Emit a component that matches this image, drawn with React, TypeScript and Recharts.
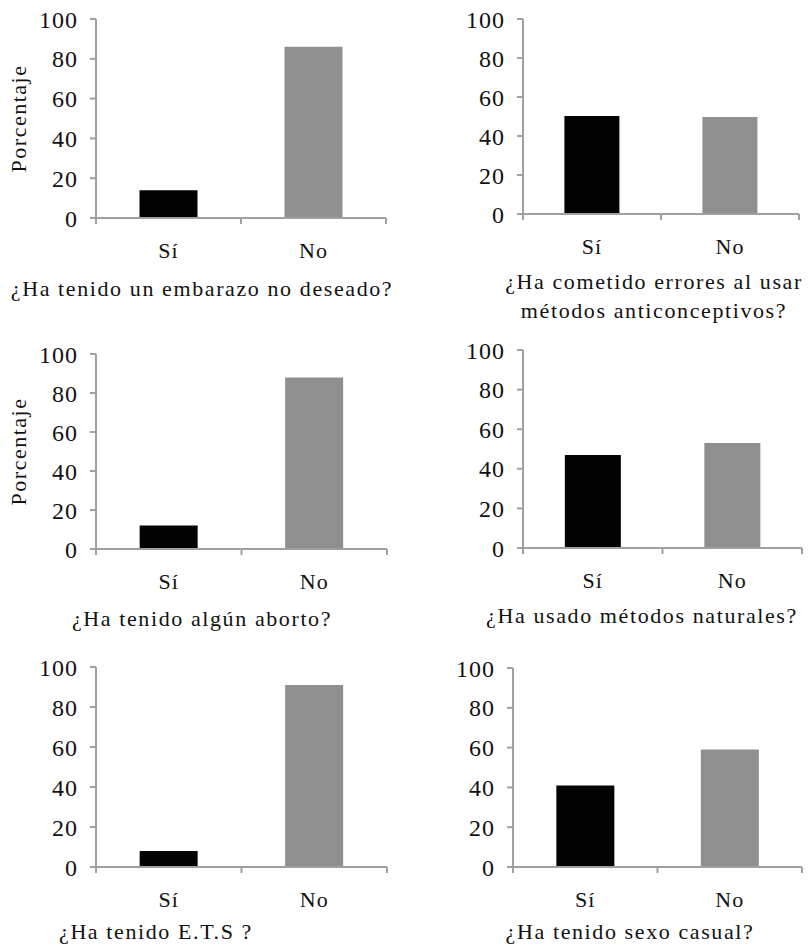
import React from 'react';
import { BarChart, Bar, XAxis, YAxis, Cell, Label } from 'recharts';

const categories = ['Sí', 'No'];
const embarazoNoDeseado = [14, 86];
const erroresAnticonceptivos = [50.3, 49.7];
const aborto = [12, 88];
const metodosNaturales = [47, 53];
const ets = [8, 91];
const sexoCasual = [41, 59];
const yTicks = [0, 20, 40, 60, 80, 100];
const titles = [
  ['¿Ha tenido un embarazo no deseado?'],
  ['¿Ha cometido errores al usar', 'métodos anticonceptivos?'],
  ['¿Ha tenido algún aborto?'],
  ['¿Ha usado métodos naturales?'],
  ['¿Ha tenido E.T.S ?'],
  ['¿Ha tenido sexo casual?'],
];
const seriesList = [embarazoNoDeseado, erroresAnticonceptivos, aborto, metodosNaturales, ets, sexoCasual];
const barColors = ['#030303', '#8f8f8f'];

const layouts = [
  { ax: 96, top: 19, bottom: 218, right: 386, tx: 202, ty: 290, ylab: true },
  { ax: 523, top: 19, bottom: 214, right: 799, tx: 654, ty: 283, ylab: false },
  { ax: 96, top: 354, bottom: 549, right: 387, tx: 202, ty: 620, ylab: true },
  { ax: 523, top: 350, bottom: 548, right: 802, tx: 642, ty: 617, ylab: false },
  { ax: 96, top: 667, bottom: 867, right: 387, tx: 156, ty: 933, ylab: false },
  { ax: 513, top: 668, bottom: 867, right: 802, tx: 630, ty: 933, ylab: false },
];

const FONT = '"Liberation Serif", "Noto Sans", serif';
const AXIS = '#a0a0a0';
const TEXT = '#111';

// Category tick: label at the band centre, Excel-style tick marks at the band edges
function CatTick(props: any) {
  const { x, y, payload, index, width, visibleTicksCount } = props;
  const count = visibleTicksCount || categories.length;
  const half =
    payload && typeof payload.offset === 'number' && payload.offset > 0
      ? payload.offset
      : width / (2 * count);
  const isLast = index === count - 1;
  return (
    <g>
      <line x1={x - half} y1={y} x2={x - half} y2={y + 6} stroke={AXIS} strokeWidth={2} />
      {isLast ? <line x1={x + half} y1={y} x2={x + half} y2={y + 6} stroke={AXIS} strokeWidth={2} /> : null}
      <text x={x} y={y + 40} textAnchor="middle" fill={TEXT} fontSize={22} fontFamily={FONT} letterSpacing={1}>
        {payload.value}
      </text>
    </g>
  );
}

function Panel({ idx }: { idx: number }) {
  const L = layouts[idx];
  const values = seriesList[idx];
  const data = categories.map((c, i) => ({ cat: c, value: values[i] }));
  const yW = 96;
  const mTop = 12;
  const mRight = 10;
  const left = L.ax - yW;
  const top = L.top - mTop;
  const width = L.right - L.ax + yW + mRight;
  const height = L.bottom - L.top + mTop + 50;
  return (
    <div style={{ position: 'absolute', left, top, width, height }}>
      <BarChart
        width={width}
        height={height}
        data={data}
        margin={{ top: mTop, right: mRight, bottom: 0, left: 0 }}
        barCategoryGap="30%"
      >
        <XAxis
          dataKey="cat"
          type="category"
          height={50}
          interval={0}
          axisLine={{ stroke: AXIS, strokeWidth: 2 }}
          tickLine={false}
          tickSize={0}
          tickMargin={0}
          tick={<CatTick />}
        />
        <YAxis
          width={yW}
          domain={[0, 100]}
          ticks={yTicks}
          interval={0}
          axisLine={{ stroke: AXIS, strokeWidth: 2 }}
          tickLine={{ stroke: AXIS, strokeWidth: 2 }}
          tickSize={6}
          tickMargin={12}
          tick={{ fill: TEXT, fontSize: 24, fontFamily: FONT, letterSpacing: 1 }}
        >
          {L.ylab ? (
            <Label
              value="Porcentaje"
              angle={-90}
              position="insideLeft"
              offset={18}
              style={{ textAnchor: 'middle', fill: TEXT, fontSize: 22, fontFamily: FONT, letterSpacing: 1.5 }}
            />
          ) : null}
        </YAxis>
        <Bar dataKey="value" isAnimationActive={false}>
          {data.map((d, i) => (
            <Cell key={d.cat} fill={barColors[i]} />
          ))}
        </Bar>
      </BarChart>
    </div>
  );
}

function Title({ idx }: { idx: number }) {
  const L = layouts[idx];
  const lines = titles[idx];
  return (
    <div
      style={{
        position: 'absolute',
        left: L.tx - 220,
        top: L.ty - 16,
        width: 440,
        textAlign: 'center',
        fontFamily: FONT,
        fontSize: 22,
        letterSpacing: '1.6px',
        lineHeight: '29px',
        color: TEXT,
        whiteSpace: 'nowrap',
      }}
    >
      {lines.map((t) => (
        <div key={t}>{t}</div>
      ))}
    </div>
  );
}

export default function App() {
  return (
    <div style={{ position: 'absolute', left: 0, top: 0, width: 812, height: 947, background: '#fff' }}>
      {layouts.map((_, i) => (
        <Panel key={'p' + i} idx={i} />
      ))}
      {layouts.map((_, i) => (
        <Title key={'t' + i} idx={i} />
      ))}
    </div>
  );
}
